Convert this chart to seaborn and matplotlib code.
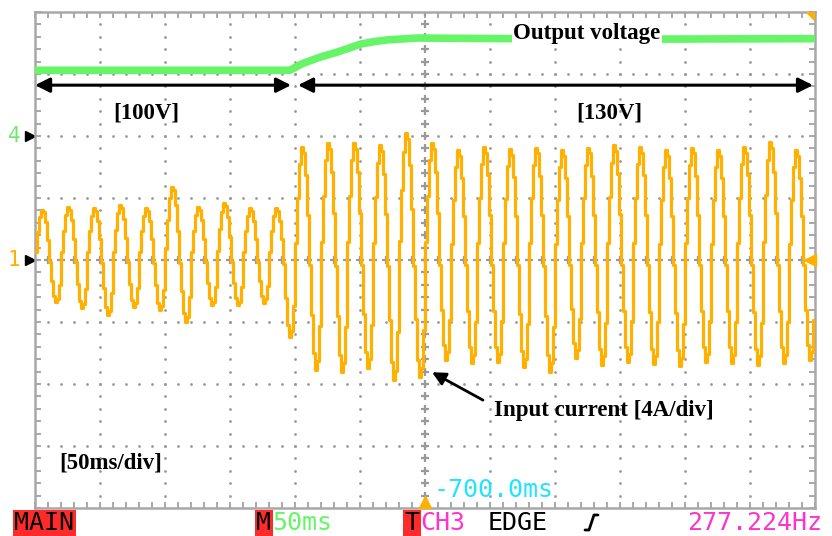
import numpy as np
import matplotlib
matplotlib.use("Agg")
import matplotlib.pyplot as plt
import matplotlib.transforms as mtransforms
from matplotlib.lines import Line2D
from matplotlib.patches import Polygon
import seaborn as sns

# time in ms relative to screen centre (-700 ms), 50 ms/div, 12 div across
T_MIN, T_MAX = -300, 300
DIV_MS = 50
PERIOD_MS = 20

# one mains cycle of the stepped current trace (starts at rising zero crossing)
cycle_shape = [0.15, 0.55, 0.85, 1.00, 0.95, 0.75, 0.40, -0.05, -0.50, -0.85, -1.00, -0.92, -0.60]

# peak and trough of every cycle, in divisions
current_peaks = [0.81, 0.85, 0.84, 0.89, 0.84, 1.18, 0.85, 0.92, 0.84, 0.84,
                 1.82, 1.89, 1.89, 1.85, 2.05, 1.89, 1.77, 1.82, 1.79, 1.81,
                 1.77, 1.81, 1.85, 1.82, 1.77, 1.81, 1.77, 1.82, 1.90, 1.77]
current_troughs = [-0.68, -0.77, -0.89, -0.76, -0.81, -1.00, -0.73, -0.73, -0.69, -1.24,
                   -1.77, -1.81, -1.74, -1.94, -1.89, -1.61, -1.66, -1.65, -1.73, -1.81,
                   -1.58, -1.69, -1.65, -1.68, -1.71, -1.65, -1.66, -1.69, -1.66, -1.61]

# output voltage trace, divisions
voltage_t = [-300, -104, -94, -81, -68, -58, -50, -40, -29, -6, 135, 300]
voltage_div = [3.06, 3.06, 3.17, 3.27, 3.35, 3.42, 3.48, 3.52, 3.55, 3.58, 3.56, 3.57]

ORANGE = "#ffb000"
GREEN = "#66f566"
GRID = "#9a9a9a"
CYAN = "#22e4ff"
MAGENTA = "#ff33cc"
RED = "#ff2b2b"
SERIF = "Liberation Serif"
MONO = "DejaVu Sans Mono"

# build stepped current trace from the per-cycle readings
step = PERIOD_MS / len(cycle_shape)
t_cur, y_cur = [], []
for k, (pk, tr) in enumerate(zip(current_peaks, current_troughs)):
    for i, v in enumerate(cycle_shape):
        t_cur.append(T_MIN + k * PERIOD_MS + i * step)
        y_cur.append(v * pk if v > 0 else -v * tr)
t_cur.append(T_MAX)
y_cur.append(y_cur[-1])

sns.set_theme(style="white")
fig = plt.figure(figsize=(8.32, 5.36), dpi=100)
fig.patch.set_facecolor("white")
ax = fig.add_axes([35 / 832, 28 / 536, 780 / 832, 496 / 536])
ax.set_xlim(T_MIN, T_MAX)
ax.set_ylim(-4, 4)

# dotted graticule
minor_x = np.arange(T_MIN, T_MAX + 1, DIV_MS / 5)
minor_y = np.arange(-4, 4.01, 0.2)
for k in range(-5, 6):
    if k == 0:
        continue
    ax.plot([k * DIV_MS] * len(minor_y), minor_y, ls="none", marker="o",
            ms=2.0, mew=0, color=GRID, zorder=1)
for k in range(-3, 4):
    if k == 0:
        continue
    ax.plot(minor_x, [k] * len(minor_x), ls="none", marker="o",
            ms=2.0, mew=0, color=GRID, zorder=1)
# centre axes with crosses
ax.plot([0] * len(minor_y), minor_y, ls="none", marker="+", ms=6, mew=1.6, color=GRID, zorder=1)
ax.plot(minor_x, [0] * len(minor_x), ls="none", marker="+", ms=6, mew=1.6, color=GRID, zorder=1)

# traces
sns.lineplot(x=voltage_t, y=voltage_div, ax=ax, color=GREEN, lw=5.5,
             estimator=None, sort=False, zorder=3)
sns.lineplot(x=t_cur, y=y_cur, ax=ax, color=ORANGE, lw=2.3, drawstyle="steps-post",
             estimator=None, sort=False, zorder=3)

# border ticks
ax.set_xticks(np.arange(T_MIN, T_MAX + 1, DIV_MS))
ax.set_xticks(minor_x, minor=True)
ax.set_yticks(np.arange(-4, 5, 1))
ax.set_yticks(minor_y, minor=True)
ax.tick_params(which="both", direction="in", top=True, right=True, bottom=True, left=True,
               labelbottom=False, labelleft=False, color=GRID, length=4, width=1.2)
for s in ax.spines.values():
    s.set_color("#a8a8a8")
    s.set_linewidth(1.8)

# markers on the edges
blend = mtransforms.blended_transform_factory(ax.transAxes, ax.transData)
ax.plot([-0.006], [2], marker=">", ms=7, color="black", transform=blend, clip_on=False)
ax.plot([-0.006], [0], marker=">", ms=7, color="black", transform=blend, clip_on=False)
ax.text(-0.027, 2, "4", transform=blend, color="#6fe86f", fontsize=15, family=MONO,
        ha="center", va="center")
ax.text(-0.027, 0, "1", transform=blend, color=ORANGE, fontsize=15, family=MONO,
        ha="center", va="center")
ax.plot([296], [0], marker="<", ms=9, color=ORANGE, clip_on=False, zorder=4)
ax.plot([0], [-3.9], marker="^", ms=9, color=ORANGE, clip_on=False, zorder=4)
ax.add_patch(Polygon([(1, 1), (0.989, 1), (1, 0.982)], closed=True, transform=ax.transAxes,
                     color=ORANGE, zorder=4))

# voltage range arrows
arrow = dict(arrowstyle="<|-|>", color="black", lw=2.2, mutation_scale=22, shrinkA=0, shrinkB=0)
ax.annotate("", xy=(-103, 2.82), xytext=(-300, 2.82), arrowprops=arrow, zorder=5)
ax.annotate("", xy=(298.5, 2.82), xytext=(-97.7, 2.82), arrowprops=arrow, zorder=5)

bold = dict(family=SERIF, weight="bold", fontsize=16.5, color="black", ha="center", va="center")
ax.text(124.6, 3.66, "Output voltage", **bold, zorder=6,
        bbox=dict(boxstyle="square,pad=0.05", fc="white", ec="none"))
ax.text(-214.6, 2.37, "[100V]", **bold)
ax.text(142, 2.37, "[130V]", **bold)
ax.text(-242, -3.27, "[50ms/div]", **bold)
ax.text(137.7, -2.42, "Input current [4A/div]", **bold)
ax.annotate("", xy=(5.4, -1.81), xytext=(44.6, -2.26),
            arrowprops=dict(arrowstyle="-|>", color="black", lw=2.0, mutation_scale=20,
                            shrinkA=0, shrinkB=0))
ax.text(6.9, -3.71, "-700.0ms", color=CYAN, family=MONO, fontsize=18, ha="left", va="center")

# status bar
ybar = (536 - 523) / 536
mono = dict(family=MONO, fontsize=18, va="center", ha="left")
box = dict(boxstyle="square,pad=0.06", fc=RED, ec="none")
fig.text(14 / 832, ybar, "MAIN", color="black", bbox=box, **mono)
fig.text(256 / 832, ybar, "M", color="black", bbox=box, **mono)
fig.text(272 / 832, ybar, "50ms", color=GREEN, **mono)
fig.text(404 / 832, ybar, "T", color="black", bbox=box, **mono)
fig.text(420 / 832, ybar, "CH3", color=MAGENTA, **mono)
fig.text(488 / 832, ybar, "EDGE", color="black", **mono)
fig.text(822 / 832, ybar, "277.224Hz", color=MAGENTA, family=MONO, fontsize=18,
         va="center", ha="right")
px = lambda x, y: (x / 832, (536 - y) / 536)
xs, ys = zip(px(585, 530), px(589, 530), px(594, 515), px(598, 515))
fig.add_artist(Line2D(xs, ys, color="black", lw=2.0))

fig.savefig("out.png", dpi=100, facecolor="white")
